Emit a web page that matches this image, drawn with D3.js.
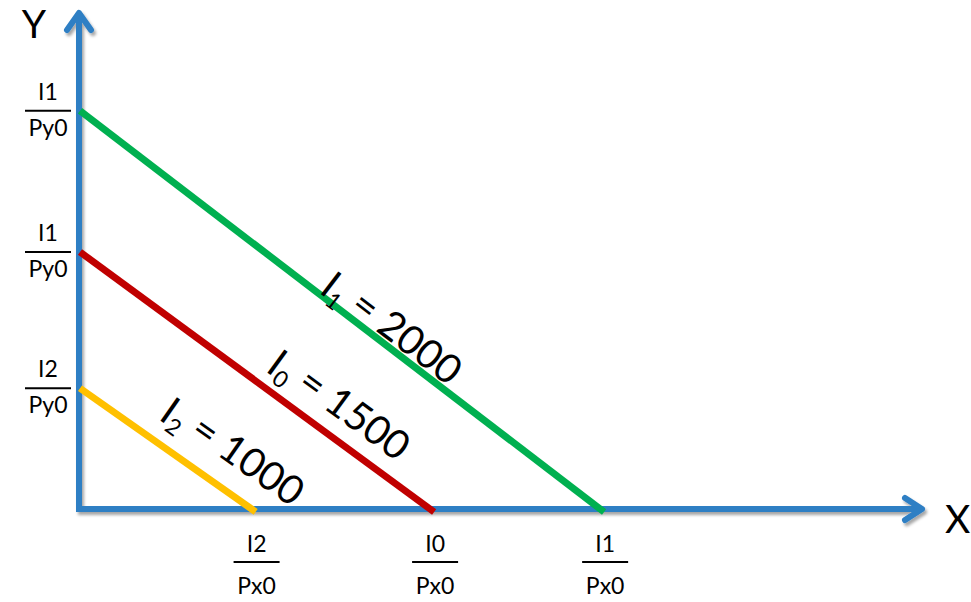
<!DOCTYPE html>
<html>
<head>
<meta charset="utf-8">
<script src="https://cdn.jsdelivr.net/npm/d3@7"></script>
<style>
  body { margin: 0; background: #fff; }
  text { font-family: Lato, "Open Sans", sans-serif; fill: #000; }
</style>
</head>
<body>
<svg></svg>
<script>
// budget lines (axis units 0-100)
var lineSubs = ["1", "0", "2"];
var incomes = [2000, 1500, 1000];
var xIntercepts = [61.6, 41.5, 20.4];
var yIntercepts = [79.8, 51.5, 24.2];
var lineColors = ["#00b050", "#c00000", "#ffc000"];

// tick labels (fractions)
var xTickTops = ["I1", "I0", "I2"];
var xTickBottom = "Px0";
var yTickTops = ["I1", "I1", "I2"];
var yTickBottom = "Py0";

var svgWidth = 971, svgHeight = 602;
var axisColor = "#2e7fc4";

var svg = d3.select("svg")
    .attr("width", svgWidth)
    .attr("height", svgHeight);

var xScale = d3.scaleLinear().domain([0, 100]).range([79, 925]);
var yScale = d3.scaleLinear().domain([0, 100]).range([509, 10]);

// soft shadow under the axes
var defs = svg.append("defs");
defs.append("filter")
    .attr("id", "shadow")
    .attr("x", "-10%").attr("y", "-10%")
    .attr("width", "120%").attr("height", "120%")
    .append("feDropShadow")
    .attr("dx", 2).attr("dy", 3)
    .attr("stdDeviation", 1.8)
    .attr("flood-color", "#000")
    .attr("flood-opacity", 0.35);

var axes = svg.append("g").attr("filter", "url(#shadow)");

axes.append("path")
    .attr("d", d3.line()([
        [xScale(0), yScale(100) + 3],
        [xScale(0), yScale(0)],
        [xScale(100) - 3, yScale(0)]
    ]))
    .attr("fill", "none")
    .attr("stroke", axisColor)
    .attr("stroke-width", 6)
    .attr("stroke-linejoin", "miter");

// arrow heads
axes.append("path")
    .attr("d", d3.line()([
        [xScale(0) - 12, yScale(100) + 20],
        [xScale(0), yScale(100) + 3],
        [xScale(0) + 12, yScale(100) + 20]
    ]))
    .attr("fill", "none")
    .attr("stroke", axisColor)
    .attr("stroke-width", 6)
    .attr("stroke-linecap", "round")
    .attr("stroke-linejoin", "round");

axes.append("path")
    .attr("d", d3.line()([
        [xScale(100) - 20, yScale(0) - 11],
        [xScale(100) - 3, yScale(0)],
        [xScale(100) - 20, yScale(0) + 11]
    ]))
    .attr("fill", "none")
    .attr("stroke", axisColor)
    .attr("stroke-width", 6)
    .attr("stroke-linecap", "round")
    .attr("stroke-linejoin", "round");

// axis names
svg.append("text")
    .attr("x", 34).attr("y", 38)
    .attr("text-anchor", "middle")
    .style("font-size", "39px")
    .text("Y");

svg.append("text")
    .attr("x", 945).attr("y", 533)
    .style("font-size", "39px")
    .text("X");

// budget lines
var lines = svg.selectAll(".budget")
    .data(incomes)
    .enter()
    .append("line")
    .attr("class", "budget")
    .attr("x1", function (d, i) { return xScale(0) + 1; })
    .attr("y1", function (d, i) { return yScale(yIntercepts[i]); })
    .attr("x2", function (d, i) {
        var dx = xScale(xIntercepts[i]) - xScale(0);
        var dy = yScale(0) - yScale(yIntercepts[i]);
        return xScale(xIntercepts[i]) + 5 * dx / Math.hypot(dx, dy);
    })
    .attr("y2", function (d, i) {
        var dx = xScale(xIntercepts[i]) - xScale(0);
        var dy = yScale(0) - yScale(yIntercepts[i]);
        return yScale(0) + 5 * dy / Math.hypot(dx, dy);
    })
    .attr("stroke", function (d, i) { return lineColors[i]; })
    .attr("stroke-width", 7);

// labels sit along each line, pushed up off it
var labelAlong = [0.58, 0.69, 0.77];
var labelOffset = [15, 28, 34];

var labels = svg.selectAll(".blabel")
    .data(incomes)
    .enter()
    .append("text")
    .attr("class", "blabel")
    .attr("text-anchor", "middle")
    .attr("dy", "0.35em")
    .style("font-size", "40px")
    .attr("transform", function (d, i) {
        var x0 = xScale(0), y0 = yScale(yIntercepts[i]);
        var x1 = xScale(xIntercepts[i]), y1 = yScale(0);
        var t = labelAlong[i];
        var angle = Math.atan2(y1 - y0, x1 - x0);
        var cx = x0 + t * (x1 - x0) + labelOffset[i] * Math.sin(angle);
        var cy = y0 + t * (y1 - y0) - labelOffset[i] * Math.cos(angle);
        return "translate(" + cx + "," + cy + ") rotate(" + angle * 180 / Math.PI + ")";
    });

labels.append("tspan").text("I");
labels.append("tspan")
    .attr("dy", "0.25em")
    .style("font-size", "23px")
    .text(function (d, i) { return lineSubs[i]; });
labels.append("tspan")
    .attr("dy", "-0.25em")
    .text(function (d) { return " = " + d; });

// fraction tick labels on the y axis
var yTicks = svg.selectAll(".ytick")
    .data(yIntercepts)
    .enter()
    .append("g")
    .attr("class", "ytick")
    .attr("transform", function (d) { return "translate(48," + yScale(d) + ")"; });

yTicks.append("line")
    .attr("x1", -23).attr("x2", 23)
    .attr("stroke", "#000").attr("stroke-width", 2);
yTicks.append("text")
    .attr("y", -11)
    .attr("text-anchor", "middle")
    .style("font-size", "23px")
    .text(function (d, i) { return yTickTops[i]; });
yTicks.append("text")
    .attr("y", 25)
    .attr("text-anchor", "middle")
    .style("font-size", "23px")
    .text(yTickBottom);

// fraction tick labels on the x axis
var xTicks = svg.selectAll(".xtick")
    .data(xIntercepts)
    .enter()
    .append("g")
    .attr("class", "xtick")
    .attr("transform", function (d) { return "translate(" + (xScale(d) + 5) + ",562)"; });

xTicks.append("line")
    .attr("x1", -23).attr("x2", 23)
    .attr("stroke", "#000").attr("stroke-width", 2);
xTicks.append("text")
    .attr("y", -10)
    .attr("text-anchor", "middle")
    .style("font-size", "23px")
    .text(function (d, i) { return xTickTops[i]; });
xTicks.append("text")
    .attr("y", 32)
    .attr("text-anchor", "middle")
    .style("font-size", "23px")
    .text(xTickBottom);
</script>
</body>
</html>
